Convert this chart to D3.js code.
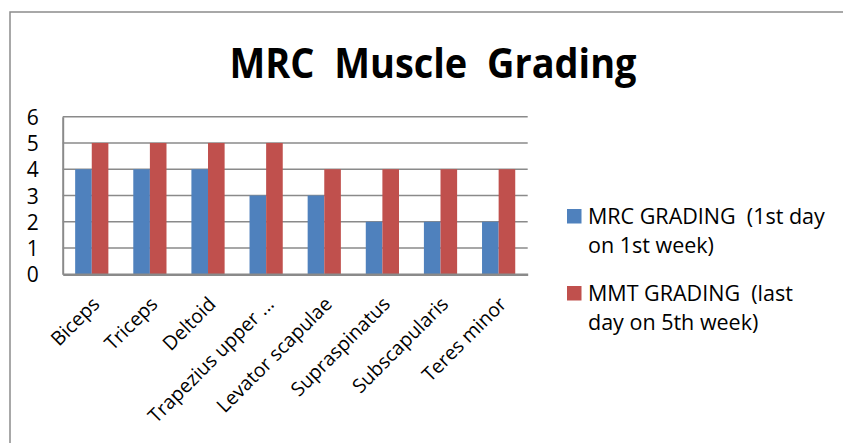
<html>
<head>
<script src="https://d3js.org/d3.v7.min.js"></script>
<style>
body { margin: 0; background: #fff; }
text { font-family: "Open Sans", "Liberation Sans", sans-serif; fill: #000; }
</style>
</head>
<body>
<script>
// chart data
var categories = ["Biceps", "Triceps", "Deltoid", "Trapezius upper ...", "Levator scapulae", "Supraspinatus", "Subscapularis", "Teres minor"];
var mrcGrading = [4, 4, 4, 3, 3, 2, 2, 2];
var mmtGrading = [5, 5, 5, 5, 4, 4, 4, 4];
var seriesNames = [["MRC GRADING  (1st day", "on 1st week)"], ["MMT GRADING  (last", "day on 5th week)"]];
var yTicks = [0, 1, 2, 3, 4, 5, 6];
var colors = ["#4F81BD", "#C0504D"];

var w = 843, h = 443;
var plot = { left: 62.7, right: 527.7, top: 116.7, bottom: 274.3 };

var svg = d3.select("body").append("svg").attr("width", w).attr("height", h);
svg.append("rect").attr("width", w).attr("height", h).attr("fill", "#fff");

// outer chart border (cut off at right and bottom)
svg.append("rect").attr("x", 10).attr("y", 12).attr("width", 900).attr("height", 500)
  .attr("fill", "none").attr("stroke", "#8c8c8c").attr("stroke-width", 1.5);

// title
svg.append("text").attr("x", 433).attr("y", 78).attr("text-anchor", "middle")
  .style("font-size", "41px").style("font-weight", "bold")
  .attr("textLength", 407).attr("lengthAdjust", "spacingAndGlyphs")
  .style("white-space", "pre")
  .text("MRC  Muscle  Grading");

var xScale = d3.scaleBand().domain(categories).range([plot.left, plot.right]);
var yScale = d3.scaleLinear().domain([0, 6]).range([plot.bottom, plot.top]);

// gridlines
svg.append("g").selectAll("line").data(yTicks.filter(function(d){ return d > 0; }))
  .enter().append("line")
  .attr("x1", plot.left).attr("x2", plot.right)
  .attr("y1", function(d){ return yScale(d); }).attr("y2", function(d){ return yScale(d); })
  .attr("stroke", "#8a8a8a").attr("stroke-width", 1.5);

// bars
var barW = xScale.bandwidth() / 3.5;
var series = [mrcGrading, mmtGrading];
series.forEach(function(vals, s) {
  svg.append("g").selectAll("rect").data(categories).enter().append("rect")
    .attr("x", function(d){ return xScale(d) + xScale.bandwidth() / 2 - barW + s * barW; })
    .attr("y", function(d, i){ return yScale(vals[i]); })
    .attr("width", barW)
    .attr("height", function(d, i){ return yScale(0) - yScale(vals[i]); })
    .attr("fill", colors[s]);
});

// axes
var yAxis = d3.axisLeft(yScale).tickValues(yTicks).tickSize(0).tickPadding(24).tickFormat(d3.format("d"));
var yg = svg.append("g").attr("transform", "translate(" + plot.left + ",0)").call(yAxis);
yg.select(".domain").attr("stroke", "#8a8a8a").attr("stroke-width", 2);
yg.selectAll("text").style("font-size", "21px").attr("dy", "0.36em");

var xAxis = d3.axisBottom(xScale).tickSize(0).tickFormat(function(d){ return d; });
var xg = svg.append("g").attr("transform", "translate(0," + plot.bottom + ")").call(xAxis);
xg.select(".domain").attr("stroke", "#8a8a8a").attr("stroke-width", 2.5);
xg.selectAll("text")
  .style("font-size", "19.5px")
  .attr("text-anchor", "end")
  .attr("y", 0).attr("dy", 0)
  .attr("transform", "translate(9,31) rotate(-45)");

// legend
var legend = svg.append("g");
seriesNames.forEach(function(lines, s) {
  var top = 209 + s * 77;
  legend.append("rect").attr("x", 567).attr("y", top).attr("width", 14.5).attr("height", 14.5).attr("fill", colors[s]);
  lines.forEach(function(line, j) {
    legend.append("text").attr("x", 588).attr("y", top + 14.5 + j * 29)
      .style("font-size", "21.5px").style("white-space", "pre").text(line);
  });
});
</script>
</body>
</html>
